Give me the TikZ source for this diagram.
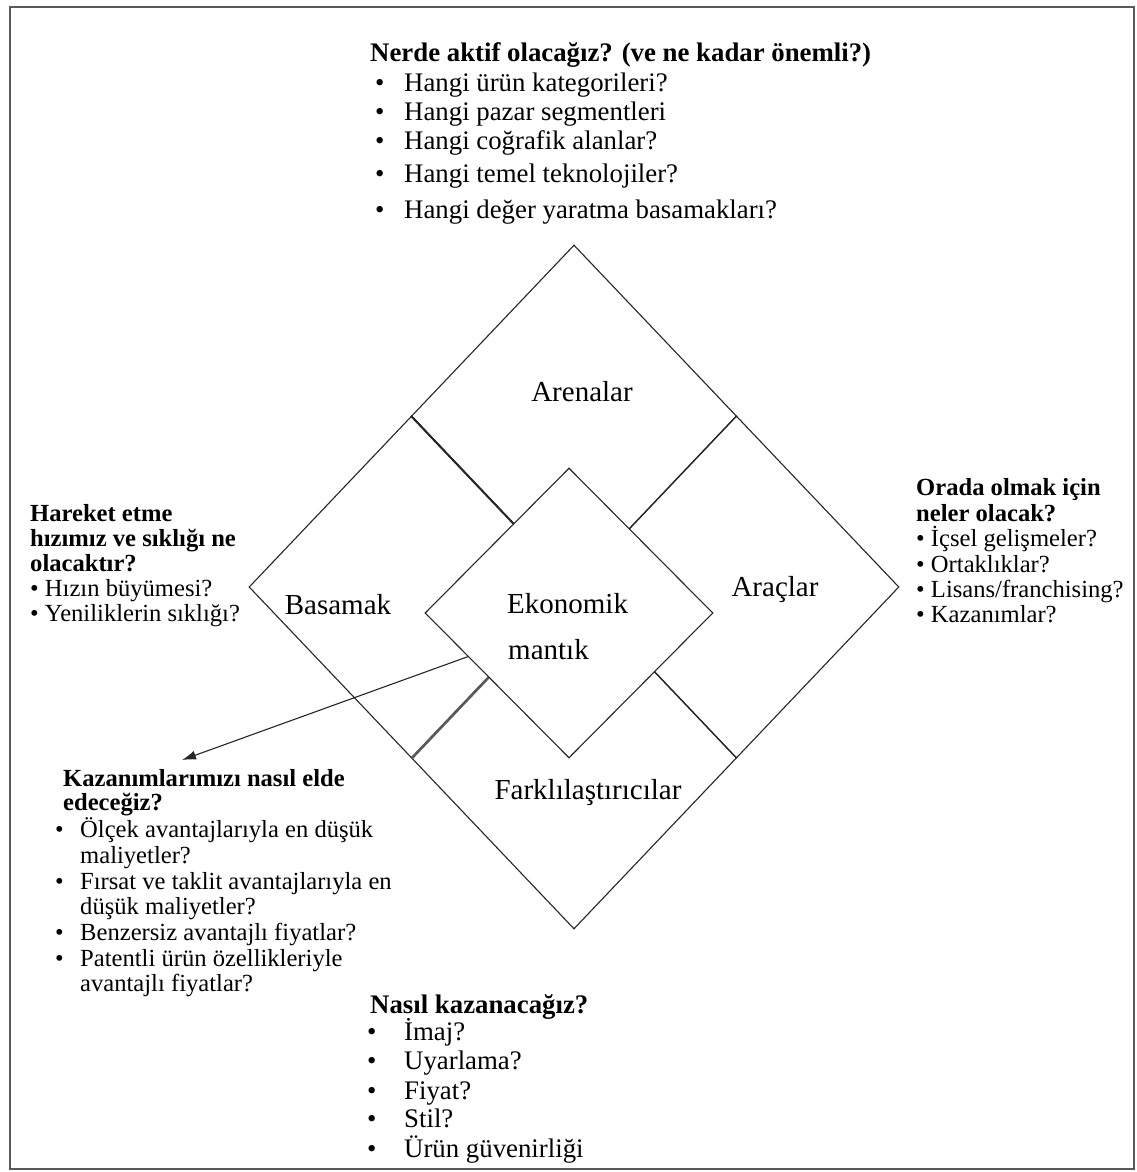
\documentclass[tikz,border=0pt]{standalone}
\usepackage{fontspec}
\setmainfont{Liberation Serif}
\usetikzlibrary{shapes.geometric,arrows.meta,calc}

\begin{document}
\begin{tikzpicture}[x=1pt,y=-1pt,
  edge/.style={draw=black!85, line width=1.1pt},
  rhomb/.style={diamond, edge, inner sep=0pt, minimum width=325pt, minimum height=342pt},
  core/.style={diamond, edge, fill=white, inner sep=0pt, minimum width=288pt, minimum height=290pt},
  lbl/.style={inner sep=0pt, font=\fontsize{29}{30}\selectfont},
  big/.style={inner sep=0pt, anchor=base west, font=\fontsize{26.8}{28}\selectfont},
  bigb/.style={big, font=\fontsize{26.8}{28}\selectfont\bfseries},
  small/.style={inner sep=0pt, anchor=base west, font=\fontsize{24.6}{25}\selectfont},
  smallb/.style={small, font=\fontsize{24.6}{25}\selectfont\bfseries},
]
\useasboundingbox (0,0) rectangle (1137,1172);
\fill[white] (0,0) rectangle (1137,1172);
\draw[black!65, line width=1.5pt] (10,7) rectangle (1134,1169);

% four outer diamonds
\node[rhomb] (are) at (574,416) {};
\node[rhomb] (bas) at (411.5,587) {};
\node[rhomb] (ara) at (736.5,587) {};
\node[rhomb] (far) at (574,758) {};
% shared edges drawn heavier
\draw[line width=1.8pt, black!85] (are.west) -- (are.south);
\draw[line width=2.6pt, black!65] (bas.south) -- (bas.east);
% central diamond on top
\node[core] (eko) at (569,613) {};

% diamond labels
\node[lbl] (tA) at (582,392) {Arenalar};
\node[lbl] (tB) at (338,605) {Basamak};
\node[lbl] (tC) at (775,590) {Araçlar};
\node[lbl] (tF) at (588,793) {Farklılaştırıcılar};
\node[lbl, anchor=base west] (tE1) at (507,613) {Ekonomik};
\node[lbl, anchor=base west] (tE2) at (508,659) {mantık};

% arrow from the core to the lower-left list
\coordinate (src) at ($(eko.west)!0.3!(eko.south)$);
\coordinate (tip) at (182,760);
\draw[edge, -{Latex[length=14pt,width=9pt]}] (src) -- (tip);

% top list
\node[bigb] (q1) at (370,62) {Nerde aktif olacağız? (ve ne kadar önemli?)};
\foreach \t/\y [count=\i] in {Hangi ürün kategorileri?/91, Hangi pazar segmentleri/120, Hangi coğrafik alanlar?/149, Hangi temel teknolojiler?/182, Hangi değer yaratma basamakları?/218}{
  \node[big] (q1b\i) at (375,\y) {•};
  \node[big] (q1i\i) at (404,\y) {\t};
}

% left list
\foreach \t/\y [count=\i] in {Hareket etme/521, hızımız ve sıklığı ne/546, olacaktır?/571}{
  \node[smallb] (q2h\i) at (30,\y) {\t};
}
\node[small] (q2i1) at (30,596) {• Hızın büyümesi?};
\node[small] (q2i2) at (30,621) {• Yeniliklerin sıklığı?};

% right list
\node[smallb] (q3h1) at (916,495) {Orada olmak için};
\node[smallb] (q3h2) at (916,521) {neler olacak?};
\node[small] (q3i1) at (916,546) {• İçsel gelişmeler?};
\node[small] (q3i2) at (916,572) {• Ortaklıklar?};
\node[small] (q3i3) at (916,597) {• Lisans/franchising?};
\node[small] (q3i4) at (916,622) {• Kazanımlar?};

% lower-left list
\node[smallb] (q4h1) at (63,786) {Kazanımlarımızı nasıl elde};
\node[smallb] (q4h2) at (63,810) {edeceğiz?};
\foreach \y [count=\i] in {837,889,940,966}{
  \node[small] (q4b\i) at (55,\y) {•};
}
\foreach \t/\y [count=\i] in {Ölçek avantajlarıyla en düşük/837, maliyetler?/863, Fırsat ve taklit avantajlarıyla en/889, düşük maliyetler?/914, Benzersiz avantajlı fiyatlar?/940, Patentli ürün özellikleriyle/966, avantajlı fiyatlar?/991}{
  \node[small] (q4i\i) at (80,\y) {\t};
}

% bottom list
\node[bigb] (q5) at (370,1013) {Nasıl kazanacağız?};
\foreach \t/\y [count=\i] in {İmaj?/1040, Uyarlama?/1069, Fiyat?/1099, Stil?/1127, Ürün güvenirliği/1157}{
  \node[big] (q5b\i) at (367,\y) {•};
  \node[big] (q5i\i) at (404,\y) {\t};
}
\end{tikzpicture}
\end{document}
